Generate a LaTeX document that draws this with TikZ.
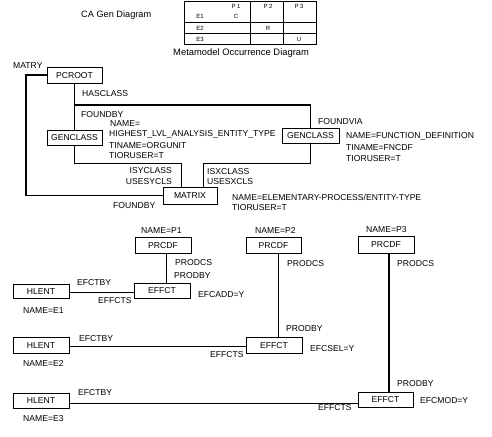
\documentclass[tikz,border=0pt]{standalone}
\usepackage{fontspec}
\setmainfont{Liberation Sans}
\begin{document}
\begin{tikzpicture}[x=1pt,y=-1pt,
  box/.style={draw,line width=0.9pt,minimum width=56pt,minimum height=16pt,inner sep=0pt,font=\fontsize{8.6}{10}\selectfont,text height=6.2pt,text depth=0pt},
  lbl/.style={inner sep=0pt,anchor=west,font=\fontsize{8.6}{10}\selectfont,text height=6.2pt,text depth=0pt},
  lble/.style={lbl,anchor=east},
  tlbl/.style={inner sep=0pt,font=\fontsize{6}{6}\selectfont,text height=4.3pt,text depth=0pt},
  thin/.style={line width=0.9pt},
  thickl/.style={line width=1.9pt}]
\useasboundingbox (0,0) rectangle (492,436);
\fill[white] (0,0) rectangle (492,436);

% title and table
\node[lbl,font=\fontsize{9.2}{10}\selectfont] (title) at (81,14) {CA Gen Diagram};
\draw[thin] (184,1) rectangle (316,44);
\draw[thin] (184,22) -- (316,22) (184,33) -- (316,33) (250,1) -- (250,44) (283,1) -- (283,44);
\node[tlbl] (tp1) at (236,6) {P 1};
\node[tlbl] (tp2) at (268,6) {P 2};
\node[tlbl] (tp3) at (299,6) {P 3};
\node[tlbl] (te1) at (200,16) {E1};
\node[tlbl] (tc) at (236,16) {C};
\node[tlbl] (te2) at (200,28) {E2};
\node[tlbl] (tr) at (268,28) {R};
\node[tlbl] (te3) at (200,39) {E3};
\node[tlbl] (tu) at (299,39) {U};
\node[lbl,font=\fontsize{9.4}{10}\selectfont] (meta) at (173,52) {Metamodel Occurrence Diagram};

% upper diagram boxes
\node[box,minimum width=55pt] (pcroot) at (74.5,75) {PCROOT};
\node[box,minimum width=55pt,minimum height=15pt] (gen1) at (74.5,137.5) {GENCLASS};
\node[box,minimum width=57pt,minimum height=15pt] (gen2) at (310.5,135.5) {GENCLASS};
\node[box,minimum width=54pt,minimum height=17pt] (matrix) at (190,195.5) {MATRIX};

% upper connectors
\draw[thickl] (pcroot.west) -- ++(-21,0) |- (matrix.west);
\draw[thin] (pcroot.south) -- (gen1.north);
\coordinate (hj) at (74.5,105);
\draw[thickl] (hj) -| (gen2.north);
\draw[thin] (gen1.south) |- ([xshift=-9pt]matrix.north |- 0,163) -- ([xshift=-9pt]matrix.north);
\draw[thin] (gen2.south) |- ([xshift=13pt]matrix.north |- 0,163) -- ([xshift=13pt]matrix.north);

% upper labels
\node[lbl] (matry) at (13,65) {MATRY};
\node[lbl] (hascl) at (82,93) {HASCLASS};
\node[lbl] (fb1) at (81,114) {FOUNDBY};
\node[lbl] (g1a) at (110,123) {NAME=};
\node[lbl] (g1b) at (109,133) {HIGHEST\_LVL\_ANALYSIS\_ENTITY\_TYPE};
\node[lbl] (g1c) at (109,145) {TINAME=ORGUNIT};
\node[lbl] (g1d) at (109,155) {TIORUSER=T};
\node[lbl] (fvia) at (318,121) {FOUNDVIA};
\node[lbl] (g2a) at (346,135) {NAME=FUNCTION\_DEFINITION};
\node[lbl] (g2b) at (346,147) {TINAME=FNCDF};
\node[lbl] (g2c) at (346,158) {TIORUSER=T};
\node[lble] (isy) at (172,170) {ISYCLASS};
\node[lble] (usy) at (172,181) {USESYCLS};
\node[lbl] (isx) at (207,171) {ISXCLASS};
\node[lbl] (usx) at (207,181) {USESXCLS};
\node[lbl] (fb2) at (113,205) {FOUNDBY};
\node[lbl] (mxa) at (232,197) {NAME=ELEMENTARY-PROCESS/ENTITY-TYPE};
\node[lbl] (mxb) at (232,207) {TIORUSER=T};

% lower boxes
\node[box] (prcdf1) at (163,245) {PRCDF};
\node[box,minimum height=15pt] (effct1) at (162,290.5) {EFFCT};
\node[box,minimum height=14pt] (hlent1) at (41,291) {HLENT};
\node[box,minimum width=55pt] (prcdf2) at (273.5,245) {PRCDF};
\node[box] (effct2) at (274,345) {EFFCT};
\node[box] (hlent2) at (41,345) {HLENT};
\node[box,minimum height=17pt] (prcdf3) at (386,244.5) {PRCDF};
\node[box,minimum width=55pt,minimum height=15pt] (effct3) at (385.5,399.5) {EFFCT};
\node[box,minimum height=15pt] (hlent3) at (41,400.5) {HLENT};

% lower connectors
\draw[thin] ([xshift=3pt]prcdf1.south) -- ([xshift=3pt]prcdf1.south |- effct1.north);
\draw[thin] ([yshift=-1.5pt]hlent1.east) -- ([yshift=-1.5pt]hlent1.east -| effct1.west);
\draw[thin] ([xshift=4.5pt]prcdf2.south) -- ([xshift=4.5pt]prcdf2.south |- effct2.north);
\draw[thin] ([yshift=-1pt]hlent2.east) -- ([yshift=-1pt]hlent2.east -| effct2.west);
\draw[thickl] ([xshift=3pt]prcdf3.south) -- ([xshift=3pt]prcdf3.south |- effct3.north);
\draw[thin] ([yshift=-2.5pt]hlent3.east) -- ([yshift=-2.5pt]hlent3.east -| effct3.west);

% lower labels
\node[lbl] (np1) at (141,230) {NAME=P1};
\node[lbl] (pc1) at (175,262) {PRODCS};
\node[lbl] (pb1) at (174,275) {PRODBY};
\node[lbl] (eb1) at (77,282) {EFCTBY};
\node[lbl] (es1) at (98,300) {EFFCTS};
\node[lbl] (ea1) at (198,294) {EFCADD=Y};
\node[lbl] (ne1) at (23,310) {NAME=E1};
\node[lbl] (np2) at (255,230) {NAME=P2};
\node[lbl] (pc2) at (287,263) {PRODCS};
\node[lbl] (pb2) at (286,328) {PRODBY};
\node[lbl] (ea2) at (310,348) {EFCSEL=Y};
\node[lbl] (eb2) at (79,338) {EFCTBY};
\node[lbl] (es2) at (210,354) {EFFCTS};
\node[lbl] (ne2) at (23,363) {NAME=E2};
\node[lbl] (np3) at (366,229) {NAME=P3};
\node[lbl] (pc3) at (397,263) {PRODCS};
\node[lbl] (pb3) at (397,383) {PRODBY};
\node[lbl] (ea3) at (420,400) {EFCMOD=Y};
\node[lbl] (es3) at (318,407) {EFFCTS};
\node[lbl] (eb3) at (78,392) {EFCTBY};
\node[lbl] (ne3) at (23,418) {NAME=E3};
\end{tikzpicture}
\end{document}
